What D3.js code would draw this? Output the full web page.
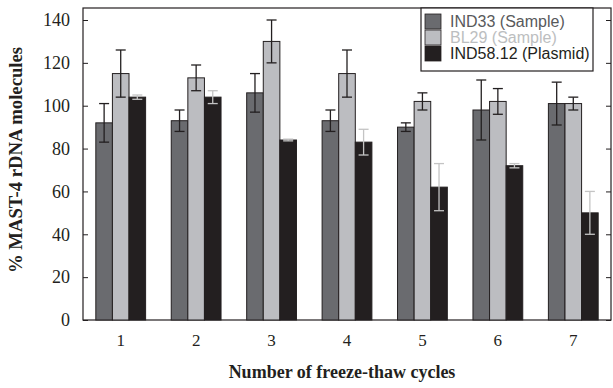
<!DOCTYPE html>
<html>
<head>
<meta charset="utf-8">
<script src="https://cdn.jsdelivr.net/npm/d3@7"></script>
<style>
  body { margin: 0; background: #fff; }
  svg { display: block; }
</style>
</head>
<body>
<div id="chart"></div>
<script>
// data
const cycles = ['1', '2', '3', '4', '5', '6', '7'];
const seriesNames = ['IND33 (Sample)', 'BL29 (Sample)', 'IND58.12 (Plasmid)'];
const ind33 = [92, 93, 106, 93, 90, 98, 101];
const ind33Err = [9, 5, 9, 5, 2, 14, 10];
const bl29 = [115, 113, 130, 115, 102, 102, 101];
const bl29Err = [11, 6, 10, 11, 4, 6, 3];
const ind58 = [104, 104, 84, 83, 62, 72, 50];
const ind58Err = [1, 3, 0.4, 6, 11, 1, 10];
const yTicks = [0, 20, 40, 60, 80, 100, 120, 140];

const fills = ['#6a6b6f', '#bcbdc1', '#231f20'];
const errColors = ['#231f20', '#231f20', '#c4c4c4'];
const legendText = ['#58595b', '#bcbec0', '#231f20'];

const width = 613, height = 388;
const margin = { left: 83, top: 8, right: 2, bottom: 68 };
const innerW = width - margin.left - margin.right;
const innerH = height - margin.top - margin.bottom;

const svg = d3.select('#chart').append('svg')
  .attr('width', width)
  .attr('height', height);

const g = svg.append('g')
  .attr('transform', 'translate(' + margin.left + ',' + margin.top + ')');

const x0 = d3.scaleBand().domain(cycles).range([0, innerW])
  .paddingInner(0.34).paddingOuter(0.17);
const x1 = d3.scaleBand().domain(d3.range(3)).range([0, x0.bandwidth()]);
const y = d3.scaleLinear().domain([0, 140]).range([innerH, 12]);

const serif = 'Liberation Serif, Times New Roman, serif';

// frame
g.append('rect')
  .attr('x', 0).attr('y', 0)
  .attr('width', innerW).attr('height', innerH)
  .attr('fill', 'none').attr('stroke', '#231f20').attr('stroke-width', 1.2);

// left axis
const yAxis = g.append('g')
  .call(d3.axisLeft(y).tickValues(yTicks).tickSize(-5).tickPadding(13));
yAxis.select('.domain').remove();
yAxis.selectAll('line').attr('stroke', '#231f20');
yAxis.selectAll('text')
  .attr('font-family', serif).attr('font-size', 18).attr('fill', '#231f20');

// right axis ticks
const yAxisR = g.append('g')
  .attr('transform', 'translate(' + innerW + ',0)')
  .call(d3.axisRight(y).tickValues(yTicks).tickSize(-5).tickFormat(''));
yAxisR.select('.domain').remove();
yAxisR.selectAll('line').attr('stroke', '#231f20');

// bottom axis
const xAxis = g.append('g')
  .attr('transform', 'translate(0,' + innerH + ')')
  .call(d3.axisBottom(x0).tickSize(0).tickPadding(14));
xAxis.select('.domain').remove();
xAxis.selectAll('text')
  .attr('font-family', serif).attr('font-size', 17).attr('fill', '#231f20');

const allVals = [ind33, bl29, ind58];
const allErr = [ind33Err, bl29Err, ind58Err];

const rows = [];
cycles.forEach((c, i) => {
  allVals.forEach((vals, s) => {
    rows.push({ cycle: c, s: s, v: vals[i], e: allErr[s][i] });
  });
});

const groups = g.selectAll('.bar')
  .data(rows)
  .enter().append('g')
  .attr('class', 'bar')
  .attr('transform', d => 'translate(' + (x0(d.cycle) + x1(d.s)) + ',0)');

groups.append('rect')
  .attr('x', 0)
  .attr('y', d => y(d.v))
  .attr('width', x1.bandwidth())
  .attr('height', d => innerH - y(d.v))
  .attr('fill', d => fills[d.s])
  .attr('stroke', '#231f20')
  .attr('stroke-width', 1);

const cx = x1.bandwidth() / 2;
const cap = 5;
groups.append('line')
  .attr('x1', cx).attr('x2', cx)
  .attr('y1', d => y(d.v + d.e)).attr('y2', d => y(d.v - d.e))
  .attr('stroke', d => errColors[d.s]).attr('stroke-width', 1.3);
groups.append('line')
  .attr('x1', cx - cap).attr('x2', cx + cap)
  .attr('y1', d => y(d.v + d.e)).attr('y2', d => y(d.v + d.e))
  .attr('stroke', d => errColors[d.s]).attr('stroke-width', 1.3);
groups.append('line')
  .attr('x1', cx - cap).attr('x2', cx + cap)
  .attr('y1', d => y(d.v - d.e)).attr('y2', d => y(d.v - d.e))
  .attr('stroke', d => errColors[d.s]).attr('stroke-width', 1.3);

// legend
const legend = svg.append('g').attr('transform', 'translate(421,8)');
legend.append('rect')
  .attr('x', 0).attr('y', 0).attr('width', 172).attr('height', 63)
  .attr('fill', '#fff').attr('stroke', '#231f20').attr('stroke-width', 1.2);
seriesNames.forEach((name, i) => {
  legend.append('rect')
    .attr('x', 4).attr('y', 6 + i * 16)
    .attr('width', 16).attr('height', 15)
    .attr('fill', fills[i]).attr('stroke', '#231f20').attr('stroke-width', 0.8);
  legend.append('text')
    .attr('x', 29).attr('y', 19 + i * 16)
    .attr('font-family', 'Liberation Sans, Arial, sans-serif')
    .attr('font-size', 16)
    .attr('fill', legendText[i])
    .text(name);
});

// axis titles
svg.append('text')
  .attr('x', 342).attr('y', 378)
  .attr('text-anchor', 'middle')
  .attr('font-family', serif).attr('font-weight', 'bold').attr('font-size', 18)
  .attr('fill', '#231f20')
  .text('Number of freeze-thaw cycles');

svg.append('text')
  .attr('transform', 'translate(22,160) rotate(-90)')
  .attr('text-anchor', 'middle')
  .attr('font-family', serif).attr('font-weight', 'bold').attr('font-size', 18.7)
  .attr('fill', '#231f20')
  .text('% MAST-4 rDNA molecules');
</script>
</body>
</html>
